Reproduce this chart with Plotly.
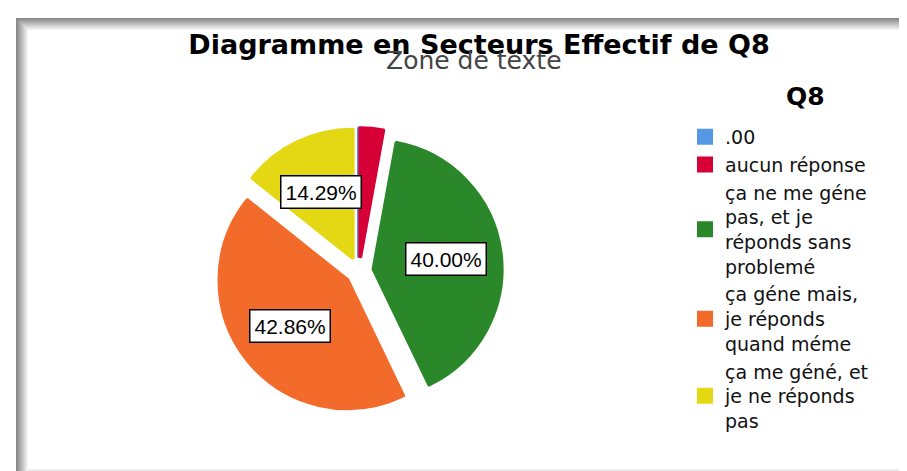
import numpy as np
import plotly.graph_objects as go

W, H = 907, 471

# ---- data ----
categories = [
    ".00",
    "aucun réponse",
    "ça ne me géne<br>pas, et je<br>réponds sans<br>problemé",
    "ça géne mais,<br>je réponds<br>quand méme",
    "ça me géné, et<br>je ne réponds<br>pas",
]
counts = [0, 1, 14, 15, 5]
colors = ["#5697E6", "#D60036", "#2A882A", "#F26B2B", "#E4D814"]
title_text = "Diagramme en Secteurs Effectif de Q8"
subtitle_text = "Zone de texte"
legend_title = "Q8"

# ---- pie geometry (pixels) ----
cx_px, cy_px = 351, 263
r_px = 128
pull = 0.115
half = r_px * (1 + pull)
dom_x = [(cx_px - half) / W, (cx_px + half) / W]
dom_y = [(H - (cy_px + half)) / H, (H - (cy_px - half)) / H]

fig = go.Figure()
fig.add_trace(go.Pie(
    labels=categories,
    values=counts,
    marker=dict(colors=colors, line=dict(width=4, color=colors)),
    sort=False,
    direction="clockwise",
    rotation=0,
    pull=[pull] * len(counts),
    textinfo="none",
    hoverinfo="label+percent",
    domain=dict(x=dom_x, y=dom_y),
    showlegend=True,
))

# ---- percentage labels in boxes ----
total = float(sum(counts))
pct = [100.0 * c / total for c in counts]
cum = np.cumsum([0] + counts[:-1]) / total
annotations = []
for i, c in enumerate(counts):
    if pct[i] < 5:
        continue
    mid = (cum[i] + c / total / 2) * 2 * np.pi  # clockwise from 12 o'clock
    d = r_px * 0.57 + r_px * pull
    x = cx_px + d * np.sin(mid)
    y = cy_px - d * np.cos(mid)
    annotations.append(dict(
        x=x / W, y=1 - y / H, xref="paper", yref="paper",
        text=f"{pct[i]:.2f}%", showarrow=False,
        font=dict(family="Liberation Sans, Arial", size=21, color="black"),
        bgcolor="white", bordercolor="black", borderwidth=1.5, borderpad=4,
        xanchor="center", yanchor="middle",
    ))

annotations.append(dict(
    x=466 / W, y=1 - 53 / H, xref="paper", yref="paper",
    text=subtitle_text, showarrow=False,
    font=dict(family="DejaVu Sans", size=25, color="#444444"),
    xanchor="center", yanchor="middle",
))
annotations.append(dict(
    x=797 / W, y=1 - 89 / H, xref="paper", yref="paper",
    text=f"<b>{legend_title}</b>", showarrow=False,
    font=dict(family="DejaVu Sans", size=25, color="black"),
    xanchor="center", yanchor="middle",
))

# ---- frame with inner shadow ----
shapes = []
fx0, fx1, fy0, fy1 = 8, 905, 10, 468
for k in range(12):
    g = int(135 + k * 10)
    col = f"rgb({g},{g},{g})"
    shapes.append(dict(type="rect", xref="paper", yref="paper",
                       x0=(fx0 + k) / W, x1=fx1 / W,
                       y0=1 - (fy0 + k + 1) / H, y1=1 - (fy0 + k) / H,
                       fillcolor=col, line=dict(width=0), layer="below"))
    shapes.append(dict(type="rect", xref="paper", yref="paper",
                       x0=(fx0 + k) / W, x1=(fx0 + k + 1) / W,
                       y0=1 - fy1 / H, y1=1 - (fy0 + k) / H,
                       fillcolor=col, line=dict(width=0), layer="below"))
for k in range(7):
    g = int(165 + k * 13)
    col = f"rgb({g},{g},{g})"
    shapes.append(dict(type="rect", xref="paper", yref="paper",
                       x0=(fx0 + 12) / W, x1=fx1 / W,
                       y0=1 - (fy1 - k) / H, y1=1 - (fy1 - k - 1) / H,
                       fillcolor=col, line=dict(width=0), layer="below"))
shapes.append(dict(type="line", xref="paper", yref="paper",
                   x0=fx1 / W, x1=fx1 / W, y0=1 - fy1 / H, y1=1 - fy0 / H,
                   line=dict(color="#E0E0E0", width=1), layer="below"))

fig.update_layout(
    width=W, height=H,
    margin=dict(l=0, r=0, t=0, b=0),
    paper_bgcolor="white",
    plot_bgcolor="white",
    title=dict(text=f"<b>{title_text}</b>", x=471 / W, y=1 - 37 / H,
               xanchor="center", yanchor="middle",
               font=dict(family="DejaVu Sans", size=27, color="black")),
    legend=dict(
        x=677 / W, y=1 - 110 / H, xanchor="left", yanchor="top",
        font=dict(family="DejaVu Sans", size=19, color="#111111"),
        traceorder="normal", bgcolor="rgba(0,0,0,0)",
        tracegroupgap=0,
    ),
    annotations=annotations,
    shapes=shapes,
)

fig.write_html("out.html")
